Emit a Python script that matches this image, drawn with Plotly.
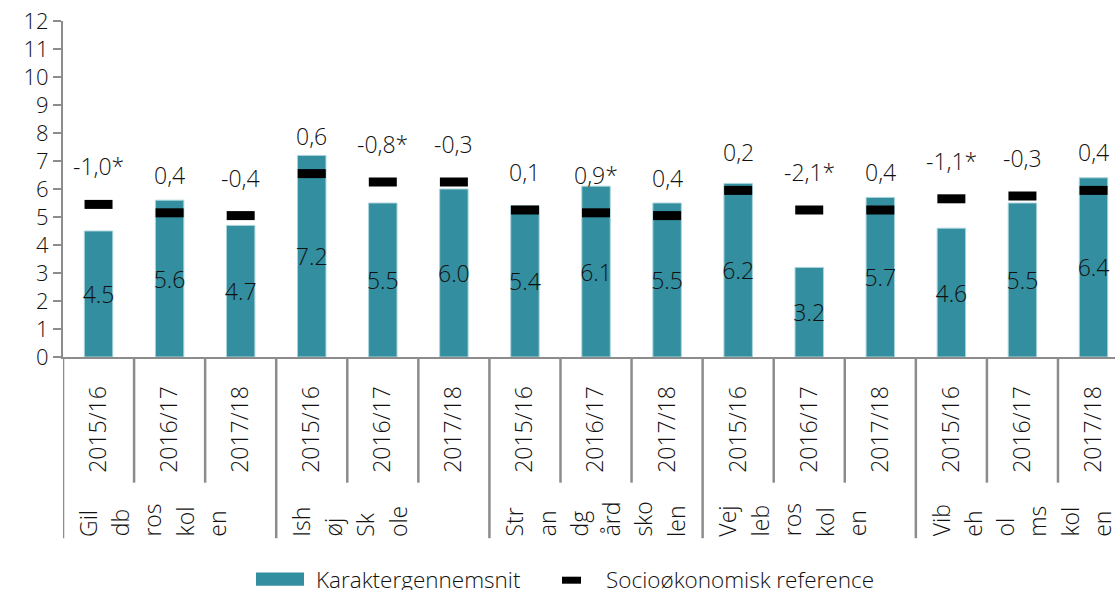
import plotly.graph_objects as go

# ---------------- data ----------------
schools = ["Gildbroskolen", "Ishøj Skole", "Strandgårdskolen", "Vejlebroskolen", "Vibeholmsskolen"]
school_fragments = [
    ["Gil", "db", "ros", "kol", "en"],
    ["Ish", "øj", "Sk", "ole"],
    ["Str", "an", "dg", "ård", "sko", "len"],
    ["Vej", "leb", "ros", "kol", "en"],
    ["Vib", "eh", "ol", "ms", "kol", "en"],
]
years = ["2015/16", "2016/17", "2017/18"]
grade_avg = [4.5, 5.6, 4.7, 7.2, 5.5, 6.0, 5.4, 6.1, 5.5, 6.2, 3.2, 5.7, 4.6, 5.5, 6.4]
socio_ref = [5.45, 5.15, 5.05, 6.55, 6.25, 6.25, 5.25, 5.15, 5.05, 5.95, 5.25, 5.25, 5.65, 5.75, 5.95]
difference_labels = ["-1,0*", "0,4", "-0,4", "0,6", "-0,8*", "-0,3", "0,1", "0,9*", "0,4",
                     "0,2", "-2,1*", "0,4", "-1,1*", "-0,3", "0,4"]
series_names = ["Karaktergennemsnit", "Socioøkonomisk reference"]

# ---------------- layout constants ----------------
# the page body margin is removed (post_script below), so the figure fills the window
W, H = 1115, 590
PLOT_LEFT, PLOT_TOP, PLOT_BOTTOM = 63, 21.3, 357.3      # px
ML = PLOT_LEFT
MT = PLOT_TOP
MB = H - PLOT_BOTTOM
MR = 0
PW, PH = W - ML - MR, H - MT - MB
FONT = "Open Sans"
WEIGHT = 300
TXT = "#111111"
AXIS = "#8c8c8c"
TEAL = "#338e9f"
FS_Y = 22
FS = 23
FS_LEG = 22.5
CAT_PX = 71.07


def py2paper(py):
    return (PLOT_BOTTOM - py) / PH


def px2paper(px):
    return (px - PLOT_LEFT) / PW


def font(size):
    return dict(family=FONT, size=size, color=TXT, weight=WEIGHT)


n = len(grade_avg)
xs = list(range(n))
tick_text = [y for _ in schools for y in years]

fig = go.Figure()
fig.add_trace(go.Bar(
    x=xs, y=grade_avg, width=0.4, name=series_names[0],
    marker=dict(color=TEAL, line=dict(color="#a9d4db", width=1)),
    text=[f"{v:.1f}" for v in grade_avg], textposition="inside",
    insidetextanchor="middle", constraintext="none", textangle=0,
    insidetextfont=font(FS),
    showlegend=False, hoverinfo="skip",
))
fig.add_trace(go.Scatter(
    x=xs, y=socio_ref, mode="markers", name=series_names[1],
    marker=dict(symbol="line-ew", size=20, color="black",
                line=dict(color="black", width=9)),
    showlegend=False, cliponaxis=False, hoverinfo="skip",
))

annotations = []
for i, (r, lab) in enumerate(zip(socio_ref, difference_labels)):
    annotations.append(dict(x=i, y=r, xref="x", yref="y", text=lab, showarrow=False,
                            yshift=38, yanchor="middle", xanchor="center",
                            font=font(FS)))

shapes = []
ng = len(years)
for b in range(n + 1):
    is_group = b % ng == 0
    bottom = 538.5 if is_group else 483
    shapes.append(dict(type="line", xref="x", yref="paper", x0=b - 0.5, x1=b - 0.5,
                       y0=0, y1=py2paper(bottom), line=dict(color=AXIS, width=2.5)))

for g, frags in enumerate(school_fragments):
    start = g * ng - 0.5
    for k, f in enumerate(frags):
        annotations.append(dict(x=start, xref="x", y=py2paper(539), yref="paper",
                                xshift=24.8 + 32.3 * k, text=f, showarrow=False,
                                textangle=-90, xanchor="center", yanchor="bottom",
                                font=font(FS)))

# custom legend
shapes.append(dict(type="rect", xref="paper", yref="paper",
                   x0=px2paper(256), x1=px2paper(304), y0=py2paper(572.7), y1=py2paper(586),
                   fillcolor=TEAL, line=dict(width=0)))
annotations.append(dict(x=px2paper(314), y=py2paper(579.5), xref="paper", yref="paper",
                        text=series_names[0], showarrow=False, xanchor="left", yanchor="middle",
                        font=font(FS_LEG)))
shapes.append(dict(type="rect", xref="paper", yref="paper",
                   x0=px2paper(562), x1=px2paper(581), y0=py2paper(577), y1=py2paper(584),
                   fillcolor="black", line=dict(width=0)))
annotations.append(dict(x=px2paper(604), y=py2paper(579.5), xref="paper", yref="paper",
                        text=series_names[1], showarrow=False, xanchor="left", yanchor="middle",
                        font=font(FS_LEG)))

fig.update_layout(
    width=W, height=H, autosize=False,
    margin=dict(l=ML, r=MR, t=MT, b=MB, pad=0, autoexpand=False),
    paper_bgcolor="white", plot_bgcolor="white",
    barmode="overlay", showlegend=False,
    font=font(FS),
    annotations=annotations, shapes=shapes,
)
fig.update_xaxes(
    range=[-0.5, -0.5 + PW / CAT_PX], tickmode="array", tickvals=xs, ticktext=tick_text,
    tickangle=-90, ticks="", showline=True, linecolor=AXIS, linewidth=2,
    showgrid=False, zeroline=False, ticklabelstandoff=18, automargin=False,
    ticklabeloverflow="allow", tickfont=font(FS),
)
fig.update_yaxes(
    range=[0, 12], dtick=1, ticks="outside", ticklen=8, tickwidth=2, tickcolor=AXIS,
    showline=True, linecolor=AXIS, linewidth=2, showgrid=False, zeroline=False,
    automargin=False, ticklabeloverflow="allow", tickfont=font(FS_Y),
)

fig.write_html(
    "out.html",
    config={"displayModeBar": False},
    post_script="document.body.style.margin='0';document.body.style.overflow='hidden';",
)
